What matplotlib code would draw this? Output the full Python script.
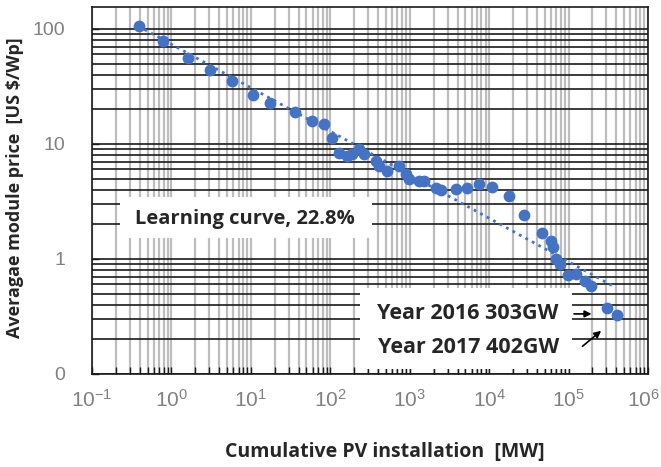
import numpy as np
import matplotlib
matplotlib.use("Agg")
import matplotlib.pyplot as plt
import matplotlib.transforms as mtransforms
from matplotlib.patches import Rectangle

# cumulative PV installation [MW] and average module price [US $/Wp]
pv_mw = [0.389, 0.778, 1.60, 3.02, 5.71, 10.5, 17.6, 36.3, 59.3, 83.8,
         106, 129, 163, 188, 231, 266, 377, 411, 517, 731,
         896, 977, 1304, 1507, 2133, 2462, 3800, 5224, 7387, 10750,
         17570, 27870, 46880, 60810, 64420, 70300, 78900, 99400, 125300, 162500,
         193200, 303000, 402000]
price = [106, 78.7, 56.0, 44.0, 35.3, 26.7, 22.7, 19.0, 15.8, 14.9,
         11.3, 8.35, 7.87, 8.19, 9.05, 8.19, 7.11, 6.44, 5.83, 6.44,
         5.48, 4.96, 4.77, 4.77, 4.15, 3.98, 4.06, 4.15, 4.49, 4.23,
         3.53, 2.41, 1.68, 1.43, 1.27, 1.0, 0.905, 0.726, 0.741, 0.644,
         0.582, 0.375, 0.326]

# learning curve trend line end points
trend_x = [0.38, 365000]
trend_y = [106, 0.58]

x_ticks = [1e-1, 1e0, 1e1, 1e2, 1e3, 1e4, 1e5, 1e6]
x_labels = [r'$\mathdefault{10^{-1}}$', r'$\mathdefault{10^{0}}$', r'$\mathdefault{10^{1}}$',
            r'$\mathdefault{10^{2}}$', r'$\mathdefault{10^{3}}$', r'$\mathdefault{10^{4}}$',
            r'$\mathdefault{10^{5}}$', r'$\mathdefault{10^{6}}$']
y_ticks = [0.1, 1, 10, 100]
y_labels = ['0', '1', '10', '100']

blue = '#4472C4'
tick_grey = '#808080'
dark = '#262626'

plt.rcParams['font.family'] = ['Liberation Sans', 'DejaVu Sans']
plt.rcParams['mathtext.fontset'] = 'custom'
plt.rcParams['mathtext.rm'] = 'Liberation Sans'

fig = plt.figure(figsize=(6.61, 4.67), dpi=100)
ax = fig.add_axes([92 / 661, 93 / 467, 556 / 661, 367 / 467])

ax.set_xscale('log')
ax.set_yscale('log')
ax.set_xlim(1e-1, 1e6)
ax.set_ylim(0.1, 155)

ax.plot(trend_x, trend_y, linestyle=':', color=blue, linewidth=2, zorder=3)
ax.scatter(pv_mw, price, s=72, color=blue, zorder=4, linewidths=0)

ax.set_xticks(x_ticks)
ax.set_xticklabels(x_labels)
ax.set_yticks(y_ticks)
ax.set_yticklabels(y_labels)

ax.grid(True, which='both', axis='x', color='#bdbdbd', linewidth=1.6)
ax.grid(True, which='both', axis='y', color='#1a1a1a', linewidth=1.2)

ax.tick_params(axis='x', which='both', direction='in', length=5, width=1,
               colors='#1a1a1a', labelcolor=tick_grey, labelsize=15, pad=11)
ax.tick_params(axis='y', which='major', direction='in', length=5, width=1,
               colors='#1a1a1a', labelcolor=tick_grey, labelsize=14, pad=19)
ax.tick_params(axis='y', which='minor', length=0)
for s in ax.spines.values():
    s.set_color('#1a1a1a')
    s.set_linewidth(1.2)

# keep the last x label inside the picture
last = ax.get_xticklabels()[-1]
last.set_transform(last.get_transform() +
                   mtransforms.ScaledTranslation(-5 / 100, 0, fig.dpi_scale_trans))

ax.set_xlabel('Cumulative PV installation  [MW]', fontfamily='Open Sans',
              fontweight='bold', fontsize=14, color=dark, va='center')
ax.xaxis.set_label_coords(0.527, -0.2125)
ax.set_ylabel('Averagae module price  [US $/Wp]', fontfamily='Open Sans',
              fontweight='bold', fontsize=13, color=dark, va='center')
ax.yaxis.set_label_coords(-0.1385, 0.507)

# white boxes covering the grid
ax.add_patch(Rectangle((0.050, 0.371), 0.453, 0.112, transform=ax.transAxes,
                       facecolor='white', edgecolor='none', zorder=2))
ax.add_patch(Rectangle((0.482, 0.014), 0.381, 0.22, transform=ax.transAxes,
                       facecolor='white', edgecolor='none', zorder=2))

ax.text(0.275, 0.422, 'Learning curve, 22.8%', transform=ax.transAxes,
        ha='center', va='center', fontfamily='Open Sans', fontweight='bold',
        fontsize=14.5, color=dark, zorder=5)
ax.text(0.675, 0.166, 'Year 2016 303GW', transform=ax.transAxes,
        ha='center', va='center', fontfamily='Open Sans', fontweight='bold',
        fontsize=15.5, color=dark, zorder=5)
ax.text(0.677, 0.071, 'Year 2017 402GW', transform=ax.transAxes,
        ha='center', va='center', fontfamily='Open Sans', fontweight='bold',
        fontsize=15.5, color=dark, zorder=5)

ax.annotate('', xy=(211000, 0.333), xytext=(108000, 0.333),
            arrowprops=dict(arrowstyle='-|>', color='black', lw=1.2), zorder=5)
ax.annotate('', xy=(273500, 0.246), xytext=(140600, 0.168),
            arrowprops=dict(arrowstyle='-|>', color='black', lw=1.2), zorder=5)

fig.savefig('out.png', dpi=100)
